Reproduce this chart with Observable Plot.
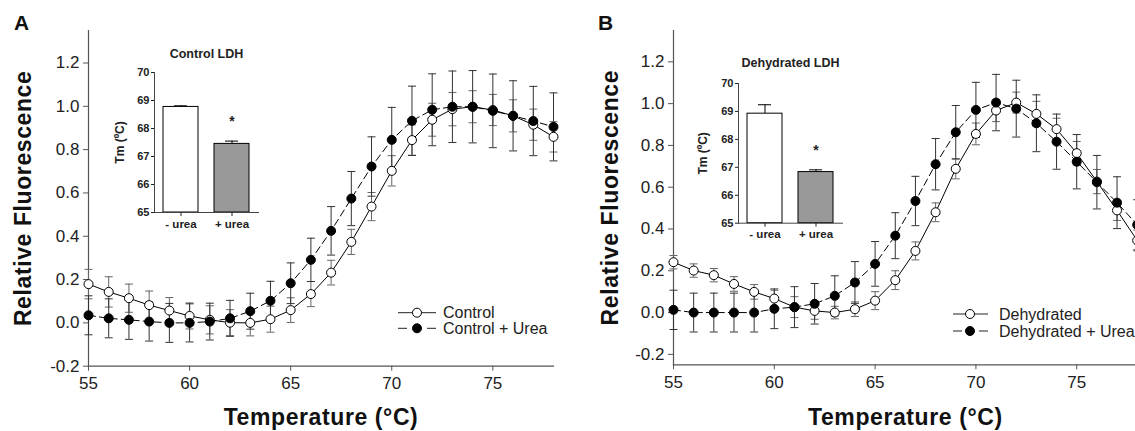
<!DOCTYPE html>
<html><head><meta charset="utf-8">
<script src="https://cdn.jsdelivr.net/npm/d3@7"></script>
<script src="https://cdn.jsdelivr.net/npm/@observablehq/plot@0.6"></script>
<style>
html,body{margin:0;padding:0;background:#fff;overflow:hidden}
#wrap{position:relative;width:1135px;height:431px;overflow:hidden;font-family:"Liberation Sans",Arial,Helvetica,sans-serif}
#wrap > svg{position:absolute}
</style></head><body><div id="wrap"></div>
<script>
// ---------- data ----------
const temps = [55,56,57,58,59,60,61,62,63,64,65,66,67,68,69,70,71,72,73,74,75,76,77,78];

// Panel A: Control LDH
const controlA    = [0.179,0.143,0.114,0.082,0.057,0.032,0.014,0.001,0.000,0.017,0.059,0.133,0.232,0.374,0.537,0.702,0.844,0.938,0.987,0.998,0.983,0.956,0.915,0.859];
const controlAErr = [0.068,0.070,0.065,0.065,0.060,0.060,0.065,0.060,0.060,0.060,0.057,0.058,0.057,0.058,0.065,0.070,0.070,0.076,0.077,0.074,0.072,0.074,0.072,0.070];
const ureaA       = [0.035,0.021,0.014,0.006,0.000,0.000,0.006,0.021,0.054,0.102,0.183,0.291,0.425,0.574,0.722,0.845,0.933,0.984,0.998,0.998,0.979,0.956,0.932,0.905];
const ureaAErr    = [0.090,0.090,0.090,0.090,0.090,0.088,0.085,0.083,0.083,0.090,0.094,0.100,0.112,0.125,0.137,0.150,0.160,0.166,0.165,0.167,0.170,0.162,0.160,0.157];

// Panel B: Dehydrated LDH
const dehydB      = [0.241,0.201,0.179,0.137,0.099,0.067,0.026,0.008,0.000,0.016,0.057,0.155,0.295,0.480,0.688,0.855,0.967,1.005,0.951,0.878,0.763,0.627,0.489,0.345];
const dehydBErr   = [0.032,0.032,0.032,0.035,0.035,0.040,0.050,0.040,0.030,0.035,0.043,0.045,0.043,0.045,0.048,0.052,0.053,0.050,0.060,0.052,0.056,0.058,0.048,0.050];
const ureaB       = [0.013,0.000,0.000,0.000,0.000,0.018,0.026,0.042,0.080,0.144,0.233,0.368,0.534,0.710,0.863,0.970,1.005,0.976,0.906,0.818,0.722,0.624,0.526,0.420];
const ureaBErr    = [0.094,0.093,0.093,0.093,0.093,0.095,0.098,0.097,0.096,0.100,0.107,0.110,0.118,0.123,0.128,0.132,0.135,0.136,0.136,0.132,0.130,0.128,0.124,0.120];

// Insets (Tm)
const insetCats   = ["- urea", "+ urea"];
const insetSig    = ["", "*"];
const tmA         = [68.77, 67.45];
const tmAErr      = [0.04, 0.10];
const tmB         = [68.92, 66.83];
const tmBErr      = [0.32, 0.08];

// tick labels / text
const xTicks = [55,60,65,70,75];
const yTicks = [-0.2,0.0,0.2,0.4,0.6,0.8,1.0,1.2];
const insetTicks = [65,66,67,68,69,70];
const yLabel = "Relative Fluorescence";
const xLabel = "Temperature (°C)";
const legendA = ["Control", "Control + Urea"];
const legendB = ["Dehydrated", "Dehydrated + Urea"];
const insetTitles = ["Control LDH", "Dehydrated LDH"];
const insetYLabel = "Tm (ºC)";

// ---------- drawing ----------
const FONT = '"Liberation Sans", Arial, Helvetica, sans-serif';
const wrap = document.getElementById("wrap");
const capSymbol = {draw(ctx, size){ const w = Math.sqrt(size / Math.PI); ctx.moveTo(-w, 0); ctx.lineTo(w, 0); }};

function errMarks(D, color) {
  return [
    Plot.ruleX(D, {x: "T", y1: d => d.v - d.e, y2: d => d.v + d.e, stroke: color, strokeWidth: 1}),
    Plot.dot(D, {x: "T", y: d => d.v + d.e, symbol: capSymbol, r: 4, stroke: color, fill: "none", strokeWidth: 1}),
    Plot.dot(D, {x: "T", y: d => d.v - d.e, symbol: capSymbol, r: 4, stroke: color, fill: "none", strokeWidth: 1})
  ];
}

function panel(o) {
  const C = temps.map((T, i) => ({T, v: o.ctrl[i], e: o.ctrlErr[i]}));
  const U = temps.map((T, i) => ({T, v: o.urea[i], e: o.ureaErr[i]}));
  const p = Plot.plot({
    width: o.width, height: 431,
    marginLeft: o.ml, marginRight: o.mr, marginTop: o.mt, marginBottom: o.mb,
    style: {background: "transparent", fontFamily: FONT, fontSize: "17px", color: "#222", overflow: "visible"},
    x: {domain: [55, 78]},
    y: {domain: o.yDomain},
    marks: [
      Plot.frame({anchor: "left", stroke: "#555", strokeWidth: 1.2}),
      Plot.frame({anchor: "bottom", stroke: "#555", strokeWidth: 1.2}),
      Plot.axisX({ticks: xTicks, tickSize: 5, tickPadding: 6, tickFormat: d => String(d), label: null, stroke: "#555"}),
      Plot.axisY({ticks: yTicks, tickSize: 5, tickPadding: 4, tickFormat: d => d.toFixed(1), label: null, stroke: "#555"}),
      ...errMarks(C, "#666"),
      ...errMarks(U, "#333"),
      Plot.line(C, {x: "T", y: "v", stroke: "black", strokeWidth: 1}),
      Plot.line(U, {x: "T", y: "v", stroke: "black", strokeWidth: 1, strokeDasharray: "7,4"}),
      Plot.dot(C, {x: "T", y: "v", r: 4.5, fill: "white", stroke: "black", strokeWidth: 1}),
      Plot.dot(U, {x: "T", y: "v", r: 4.5, fill: "black", stroke: "black", strokeWidth: 1}),
      Plot.text([yLabel], {text: d => d, frameAnchor: "left", textAnchor: "middle", lineAnchor: "middle", dx: o.yLabelDx, rotate: -90, fontSize: 23, fontWeight: "bold", fill: "#111", style: "letter-spacing:0.6px"}),
      Plot.text([xLabel], {text: d => d, frameAnchor: "bottom", textAnchor: "middle", lineAnchor: "middle", dy: o.xLabelDy, fontSize: 23, fontWeight: "bold", fill: "#111"})
    ]
  });
  p.style.left = o.left + "px"; p.style.top = "0px";
  p.querySelectorAll("text").forEach(t => {
    if (t.textContent === yLabel || t.textContent === xLabel) t.setAttribute("letter-spacing", "0.6");
  });
  wrap.appendChild(p);
}

function inset(o) {
  const D = insetCats.map((c, i) => ({c, v: o.vals[i], e: o.errs[i], s: insetSig[i]}));
  const p = Plot.plot({
    width: o.width, height: o.height,
    marginLeft: o.ml, marginRight: o.mr, marginTop: o.mt, marginBottom: o.mb,
    style: {background: "transparent", fontFamily: FONT, fontSize: "11px", fontWeight: "bold", color: "#222", overflow: "visible"},
    x: {type: "band", domain: insetCats, paddingInner: 0.32, paddingOuter: 0.175},
    y: {domain: [65, 70]},
    marks: [
      Plot.ruleX(D, {x: "c", y1: "v", y2: d => d.v + d.e, stroke: "black", strokeWidth: 1}),
      Plot.tickY(D, {x: "c", y: d => d.v + d.e, stroke: "black", strokeWidth: 1, insetLeft: 11, insetRight: 11}),
      Plot.barY(D, {x: "c", y1: 65, y2: "v", fill: (d, i) => i === 0 ? "white" : "#999", stroke: "black", strokeWidth: 1}),
      Plot.frame({anchor: "left", stroke: "#444"}),
      Plot.frame({anchor: "bottom", stroke: "#444"}),
      Plot.axisY({ticks: insetTicks, tickSize: 3, tickPadding: 2, tickFormat: d => String(d), label: null}),
      Plot.axisX({tickSize: 4, tickPadding: 3, label: null, fontSize: 11.5}),
      Plot.text(D, {x: "c", y: d => d.v + d.e, text: "s", dy: o.starDy, fontSize: 14}),
      Plot.text([o.title], {text: d => d, frameAnchor: "top", textAnchor: "middle", lineAnchor: "middle", dy: o.titleDy, fontSize: 12.5}),
      Plot.text([insetYLabel], {text: d => d, frameAnchor: "left", textAnchor: "middle", lineAnchor: "middle", dx: o.yLabelDx, rotate: -90, fontSize: 12})
    ]
  });
  p.style.left = o.left + "px"; p.style.top = o.top + "px";
  wrap.appendChild(p);
}

panel({ctrl: controlA, ctrlErr: controlAErr, urea: ureaA, ureaErr: ureaAErr, yDomain: [-0.2, 1.35],
  left: 0, width: 570, ml: 88, mr: 17, mt: 30, mb: 65.3, yLabelDx: -65, xLabelDy: 51});
panel({ctrl: dehydB, ctrlErr: dehydBErr, urea: ureaB, ureaErr: ureaBErr, yDomain: [-0.25, 1.35],
  left: 600, width: 560, ml: 73, mr: 23.3, mt: 30, mb: 66.7, yLabelDx: -63, xLabelDy: 52.5});

inset({vals: tmA, errs: tmAErr, title: insetTitles[0], left: 100, top: 40, width: 170, height: 210,
  ml: 54, mr: 12, mt: 32, mb: 38, titleDy: -19, starDy: -20, yLabelDx: -34});
inset({vals: tmB, errs: tmBErr, title: insetTitles[1], left: 690, top: 50, width: 165, height: 200,
  ml: 48, mr: 13, mt: 33, mb: 27.3, titleDy: -21, starDy: -19, yLabelDx: -35});

// ---------- overlay: panel letters & legends ----------
const ns = "http://www.w3.org/2000/svg";
const ov = document.createElementNS(ns, "svg");
ov.setAttribute("width", 1135); ov.setAttribute("height", 431);
ov.style.left = "0px"; ov.style.top = "0px"; ov.style.fontFamily = FONT;
function el(tag, attrs, txt) {
  const e = document.createElementNS(ns, tag);
  for (const k in attrs) e.setAttribute(k, attrs[k]);
  if (txt != null) e.textContent = txt;
  ov.appendChild(e); return e;
}
el("text", {x: 14, y: 30, "font-size": 21, "font-weight": "bold", fill: "#111"}, "A");
el("text", {x: 598, y: 30, "font-size": 21, "font-weight": "bold", fill: "#111"}, "B");

function legend(labels, x0, x1, cx, tx, ys) {
  labels.forEach((lab, i) => {
    const y = ys[i];
    if (i === 0) el("line", {x1: x0, x2: x1, y1: y, y2: y, stroke: "#222", "stroke-width": 1});
    else {
      el("line", {x1: x0, x2: x0 + 9, y1: y, y2: y, stroke: "#222", "stroke-width": 1});
      el("line", {x1: x1 - 9, x2: x1, y1: y, y2: y, stroke: "#222", "stroke-width": 1});
    }
    el("circle", {cx, cy: y, r: 4.5, fill: i === 0 ? "white" : "black", stroke: "black", "stroke-width": 1});
    el("text", {x: tx, y: y + 5.7, "font-size": 16, fill: "#222"}, lab);
  });
}
legend(legendA, 398, 436, 417, 443, [312.7, 328.3]);
legend(legendB, 953, 988, 970, 999, [314, 331]);
wrap.appendChild(ov);
</script></body></html>
